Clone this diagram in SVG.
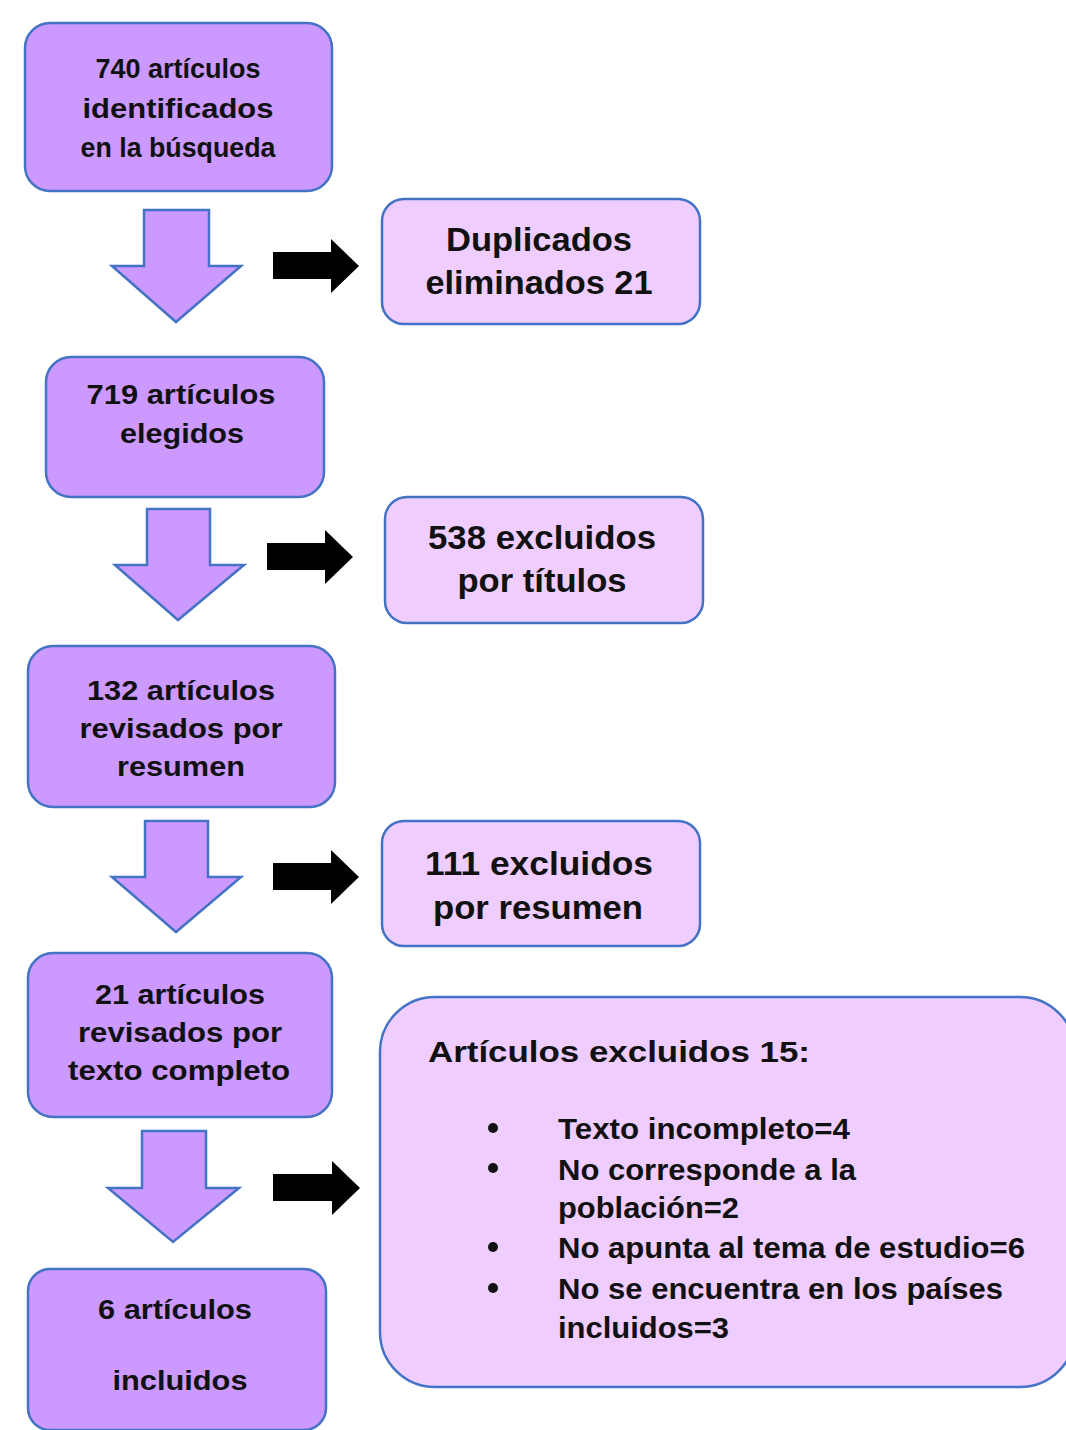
<svg xmlns="http://www.w3.org/2000/svg" width="1066" height="1430" viewBox="0 0 1066 1430">
<style>
.main{fill:#CC99FF;stroke:#4472C4;stroke-width:2.5}
.side{fill:#EFCEFF;stroke:#4472C4;stroke-width:2.5}
.down{fill:#CC99FF;stroke:#4472C4;stroke-width:2.5;stroke-linejoin:miter}
.blk{fill:#000}
text{font-family:"Liberation Sans",Arial,sans-serif;font-weight:bold;fill:#111}
.l{font-size:28px;text-anchor:middle}
.r{font-size:33px;text-anchor:middle}
.b{font-size:30px}
</style>
<rect width="1066" height="1430" fill="#fff"/>
<g id="connectors">
<polygon class="down" points="144,210 209,210 209,266 241,266 176,322 112,266 144,266"/>
<polygon class="down" points="147,509 210,509 210,565 244,565 178,620 115,565 147,565"/>
<polygon class="down" points="145,821 208,821 208,877 241,877 176,932 112,877 145,877"/>
<polygon class="down" points="142,1131 206,1131 206,1188 239,1188 173,1242 108,1188 142,1188"/>
<polygon class="blk" points="273,252 331,252 331,239 359,266 331,293 331,279 273,279"/>
<polygon class="blk" points="267,543 325,543 325,530 353,557 325,584 325,570 267,570"/>
<polygon class="blk" points="273,863 331,863 331,850 359,877 331,904 331,890 273,890"/>
<polygon class="blk" points="273,1174 332,1174 332,1161 360,1188 332,1215 332,1201 273,1201"/>
</g>
<g id="n1">
<rect class="main" x="25" y="23" width="307" height="168" rx="25"/>
<text class="l" x="178" y="78" font-size="25" textLength="165" lengthAdjust="spacingAndGlyphs">740 artículos</text>
<text class="l" x="178" y="118" textLength="191" lengthAdjust="spacingAndGlyphs">identificados</text>
<text class="l" x="178" y="157" font-size="25" textLength="195" lengthAdjust="spacingAndGlyphs">en la búsqueda</text>
</g>
<g id="n_dup">
<rect class="side" x="382" y="199" width="318" height="125" rx="22"/>
<text class="r" x="539" y="251" textLength="186" lengthAdjust="spacingAndGlyphs">Duplicados</text>
<text class="r" x="539" y="294" textLength="227" lengthAdjust="spacingAndGlyphs">eliminados 21</text>
</g>
<g id="n2">
<rect class="main" x="46" y="357" width="278" height="140" rx="25"/>
<text class="l" x="181" y="404" textLength="189" lengthAdjust="spacingAndGlyphs">719 artículos</text>
<text class="l" x="182" y="443" textLength="124" lengthAdjust="spacingAndGlyphs">elegidos</text>
</g>
<g id="n_538">
<rect class="side" x="385" y="497" width="318" height="126" rx="22"/>
<text class="r" x="542" y="549" textLength="228" lengthAdjust="spacingAndGlyphs">538 excluidos</text>
<text class="r" x="542" y="592" textLength="169" lengthAdjust="spacingAndGlyphs">por títulos</text>
</g>
<g id="n3">
<rect class="main" x="28" y="646" width="307" height="161" rx="25"/>
<text class="l" x="181" y="700" textLength="188" lengthAdjust="spacingAndGlyphs">132 artículos</text>
<text class="l" x="181" y="738" textLength="203" lengthAdjust="spacingAndGlyphs">revisados por</text>
<text class="l" x="181" y="776" textLength="128" lengthAdjust="spacingAndGlyphs">resumen</text>
</g>
<g id="n_111">
<rect class="side" x="382" y="821" width="318" height="125" rx="22"/>
<text class="r" x="539" y="875" textLength="228" lengthAdjust="spacingAndGlyphs">111 excluidos</text>
<text class="r" x="538" y="919" textLength="210" lengthAdjust="spacingAndGlyphs">por resumen</text>
</g>
<g id="n4">
<rect class="main" x="28" y="953" width="304" height="164" rx="25"/>
<text class="l" x="180" y="1004" textLength="170" lengthAdjust="spacingAndGlyphs">21 artículos</text>
<text class="l" x="180" y="1042" textLength="204" lengthAdjust="spacingAndGlyphs">revisados por</text>
<text class="l" x="179" y="1080" textLength="222" lengthAdjust="spacingAndGlyphs">texto completo</text>
</g>
<g id="n_excl">
<rect class="side" x="380" y="997" width="695" height="390" rx="55"/>
<text class="b" x="428" y="1062" font-size="31" textLength="382" lengthAdjust="spacingAndGlyphs">Artículos excluidos 15:</text>
<circle cx="493" cy="1128" r="5" fill="#111"/>
<circle cx="493" cy="1168" r="5" fill="#111"/>
<circle cx="493" cy="1247" r="5" fill="#111"/>
<circle cx="493" cy="1288" r="5" fill="#111"/>
<text class="b" x="558" y="1139" textLength="292" lengthAdjust="spacingAndGlyphs">Texto incompleto=4</text>
<text class="b" x="558" y="1180" textLength="298" lengthAdjust="spacingAndGlyphs">No corresponde a la</text>
<text class="b" x="558" y="1218" textLength="181" lengthAdjust="spacingAndGlyphs">población=2</text>
<text class="b" x="558" y="1258" textLength="467" lengthAdjust="spacingAndGlyphs">No apunta al tema de estudio=6</text>
<text class="b" x="558" y="1299" textLength="445" lengthAdjust="spacingAndGlyphs">No se encuentra en los países</text>
<text class="b" x="558" y="1338" textLength="171" lengthAdjust="spacingAndGlyphs">incluidos=3</text>
</g>
<g id="n5">
<rect class="main" x="28" y="1269" width="298" height="161" rx="22"/>
<text class="l" x="175" y="1319" textLength="154" lengthAdjust="spacingAndGlyphs">6 artículos</text>
<text class="l" x="180" y="1390" textLength="135" lengthAdjust="spacingAndGlyphs">incluidos</text>
</g>
</svg>
